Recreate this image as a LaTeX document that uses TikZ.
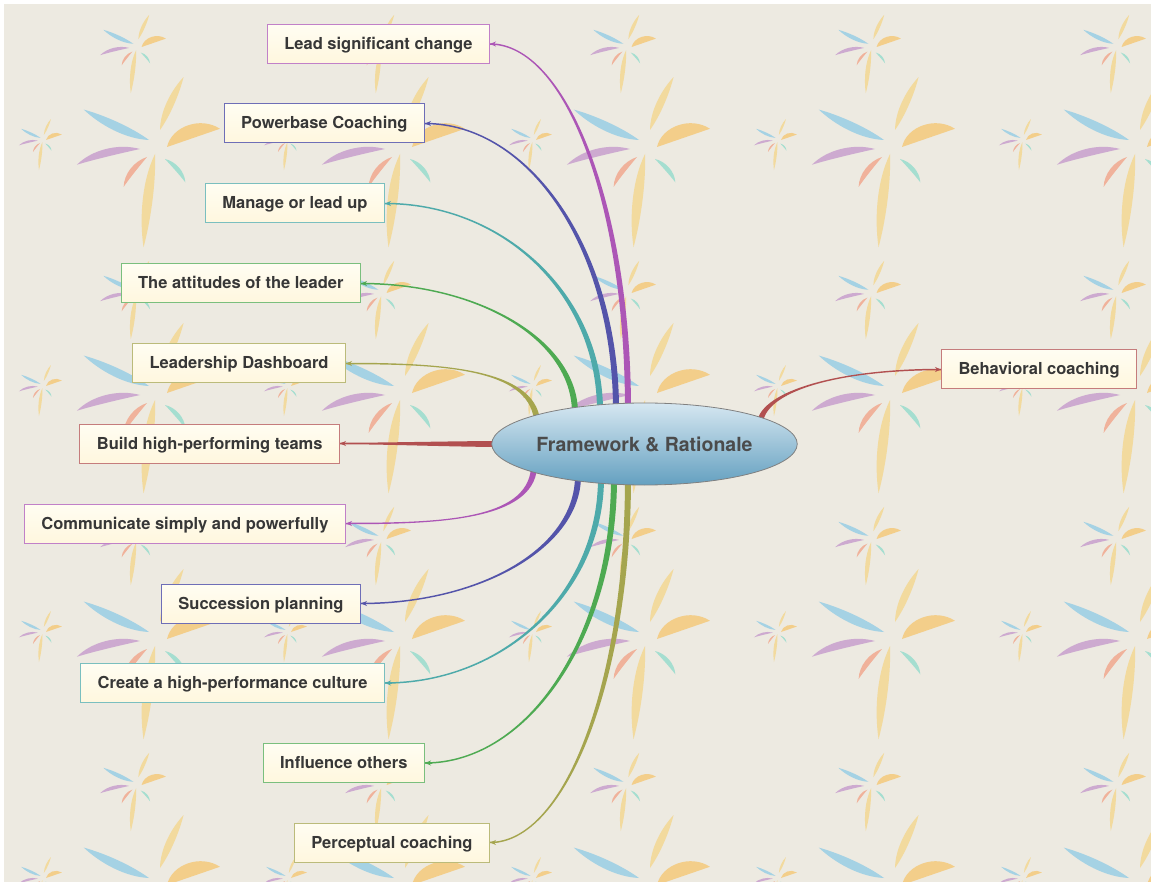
\documentclass[tikz,border=0pt]{standalone}
\usepackage{fontspec}
\setmainfont{TeX Gyre Heros}
\usepackage{tikz}
\usetikzlibrary{shapes.geometric,arrows.meta,calc}

\definecolor{paperbg}{RGB}{237,234,225}
\definecolor{ink}{RGB}{55,55,55}
\definecolor{paper}{RGB}{255,253,242}
\definecolor{paperdeep}{RGB}{255,247,222}
\definecolor{hubtop}{RGB}{214,231,241}
\definecolor{hubbottom}{RGB}{100,160,192}
\definecolor{mapviolet}{RGB}{172,86,182}
\definecolor{mapindigo}{RGB}{84,84,170}
\definecolor{mapteal}{RGB}{78,170,170}
\definecolor{mapgreen}{RGB}{78,170,82}
\definecolor{mapolive}{RGB}{165,165,78}
\definecolor{mapbrick}{RGB}{178,80,80}
\definecolor{leafblue}{RGB}{165,210,228}
\definecolor{leafviolet}{RGB}{205,170,208}
\definecolor{leafsalmon}{RGB}{240,178,155}
\definecolor{leafaqua}{RGB}{165,222,208}
\definecolor{leafsand}{RGB}{242,218,158}
\definecolor{leafgold}{RGB}{243,206,138}

\pgfdeclarelayer{backdrop}
\pgfdeclarelayer{links}
\pgfsetlayers{backdrop,links,main}

% leaf: colour, base x, base y, angle, length, width
\newcommand\leaf[6]{%
  \fill[#1,shift={(#2,#3)},rotate=#4,xscale=#5,yscale=#6]
    (0,0) .. controls (0.3,1.1) and (0.72,1.1) .. (1,0)
          .. controls (0.72,0.1) and (0.3,0.05) .. (0,0) -- cycle;}
\newcommand\blade[6]{%
  \fill[#1,shift={(#2,#3)},rotate=#4,xscale=#5,yscale=#6]
    (0,0) .. controls (0.3,0.75) and (0.7,0.6) .. (1,0)
          .. controls (0.7,-0.3) and (0.3,-0.35) .. (0,0) -- cycle;}
\newcommand\fan[6]{%
  \fill[#1,shift={(#2,#3)},rotate=#4,xscale=#5,yscale=#6]
    (0,0) .. controls (0.2,1.3) and (0.75,1.3) .. (1,0) -- cycle;}

% branch: colour, root, first control, second control, end, root half width, end half width
\newcommand\limb[7]{%
  \coordinate (near) at ($(#5)+(#4)$);
  \fill[#1] ($(#2)+(#6)$) .. controls ($(#2)+(#6)+(#3)$) and ($(#5)+(#7)+(#4)$) .. ($(#5)+(#7)$)
    -- ($(#5)-(#7)$) .. controls ($(#5)-(#7)+(#4)$) and ($(#2)-(#6)+(#3)$) .. ($(#2)-(#6)$) -- cycle;
  \draw[#1,branchtip] ($(#5)!7pt!(near)$) -- (#5);}

\tikzset{palm/.pic={
  \blade{leafblue}{-8}{-7}{155}{72}{-12}
  \leaf{leafviolet}{-17}{2}{194}{65}{10}
  \leaf{leafsalmon}{-10}{10}{232}{38}{7}
  \leaf{leafaqua}{8}{12}{-49}{31}{-6}
  \blade{leafsand}{-2}{7}{263}{94}{13}
  \blade{leafsand}{3}{-17}{66}{58}{-10}
  \fan{leafgold}{10}{0}{19}{56}{-14}
}}

\begin{document}
\begin{tikzpicture}[x=1pt,y=-1pt]

%
% Styles
%
\tikzstyle{topic}     = [rectangle,draw,line width=1pt,top color=paper,bottom color=paperdeep,
                         inner xsep=17pt,minimum height=39pt,text=ink,
                         text height=12pt,text depth=1pt,
                         font=\bfseries\fontsize{16.5}{19}\selectfont]
\tikzstyle{hub}       = [ellipse,draw=gray,line width=0.8pt,top color=hubtop,bottom color=hubbottom,
                         minimum width=305pt,minimum height=82pt,inner sep=0pt,text=ink!90,
                         font=\bfseries\fontsize{19.5}{23}\selectfont]
\tikzstyle{branchtip} = [-{Stealth[length=6pt,width=5pt]},line width=0.9pt]

\useasboundingbox (0,0) rectangle (1151,882);

\begin{pgfonlayer}{backdrop}
\fill[white] (0,0) rectangle (1151,882);
\fill[paperbg] (4,4) rectangle (1151,882);
\begin{scope}
\clip (4,4) rectangle (1151,882);
\foreach \ox in {0,245,...,980} {
  \foreach \oy in {0,246,492,738} {
    \pic at (\ox+157,\oy+147) {palm};
    \pic[scale=0.46] at (\ox+137,\oy+47) {palm};
    \pic[scale=0.3] at (\ox+43,\oy+140) {palm};
  }
}
\end{scope}
\end{pgfonlayer}

\node[hub] (core) at (644.5,444) {Framework \& Rationale};

\node[topic,draw=mapviolet!75,anchor=east] (lead)        at (490,44)    {Lead significant change};
\node[topic,draw=mapindigo!85,anchor=east] (powerbase)   at (425,123.5) {Powerbase Coaching};
\node[topic,draw=mapteal!75,anchor=east]   (manage)      at (385,203.5) {Manage or lead up};
\node[topic,draw=mapgreen!75,anchor=east]  (attitudes)   at (361,283.5) {The attitudes of the leader};
\node[topic,draw=mapolive!75,anchor=east]  (dashboard)   at (346,363.5) {Leadership Dashboard};
\node[topic,draw=mapbrick!75,anchor=east]  (teams)       at (340,443.5) {Build high-performing teams};
\node[topic,draw=mapviolet!75,anchor=east] (communicate) at (346,523.5) {Communicate simply and powerfully};
\node[topic,draw=mapindigo!85,anchor=east] (succession)  at (361,603.5) {Succession planning};
\node[topic,draw=mapteal!75,anchor=east]   (culture)     at (385,683)   {Create a high-performance culture};
\node[topic,draw=mapgreen!75,anchor=east]  (influence)   at (425,763)   {Influence others};
\node[topic,draw=mapolive!75,anchor=east]  (perceptual)  at (490,842.5) {Perceptual coaching};
\node[topic,draw=mapbrick!75,anchor=west]  (behavioral)  at (941,369.5) {Behavioral coaching};

\coordinate (lead-root)        at ($(core.center)+(-16.5,-34)$);
\coordinate (powerbase-root)   at ($(core.center)+(-28.5,-34)$);
\coordinate (manage-root)      at ($(core.center)+(-44.5,-33)$);
\coordinate (attitudes-root)   at ($(core.center)+(-69.5,-31)$);
\coordinate (dashboard-root)   at ($(core.center)+(-107.5,-24)$);
\coordinate (teams-root)       at ($(core.center)+(-139.5,0)$);
\coordinate (communicate-root) at ($(core.center)+(-110.5,24)$);
\coordinate (succession-root)  at ($(core.center)+(-66.5,32)$);
\coordinate (culture-root)     at ($(core.center)+(-43.5,34)$);
\coordinate (influence-root)   at ($(core.center)+(-30.5,34)$);
\coordinate (perceptual-root)  at ($(core.center)+(-16.5,34)$);
\coordinate (behavioral-root)  at ($(core.center)+(115.5,-22)$);

\begin{pgfonlayer}{links}
\limb{mapviolet}{lead-root}{0,-205}{76,0}{lead.east}{3,0}{0,-0.75}
\limb{mapindigo}{powerbase-root}{0,-160}{105,0}{powerbase.east}{3,0}{0,-0.75}
\limb{mapteal}{manage-root}{0,-117}{118,0}{manage.east}{3,0}{0,-0.75}
\limb{mapgreen}{attitudes-root}{0,-73}{118,0}{attitudes.east}{3,0}{0,-0.75}
\limb{mapolive}{dashboard-root}{-6,-52}{94,0}{dashboard.east}{3,0}{0,-0.75}
\limb{mapbrick}{teams-root}{-50,0}{50,0}{teams.east}{0,3}{0,0.75}
\limb{mapviolet}{communicate-root}{-4,52}{94,0}{communicate.east}{3,0}{0,0.75}
\limb{mapindigo}{succession-root}{0,72}{119,0}{succession.east}{3,0}{0,0.75}
\limb{mapteal}{culture-root}{0,114}{119,0}{culture.east}{3,0}{0,0.75}
\limb{mapgreen}{influence-root}{0,157}{104,0}{influence.east}{3,0}{0,0.75}
\limb{mapolive}{perceptual-root}{0,201}{76,0}{perceptual.east}{3,0}{0,0.75}
\limb{mapbrick}{behavioral-root}{5,-32}{-100,0}{behavioral.west}{-3,0}{0,-0.75}
\end{pgfonlayer}

\end{tikzpicture}
\end{document}
